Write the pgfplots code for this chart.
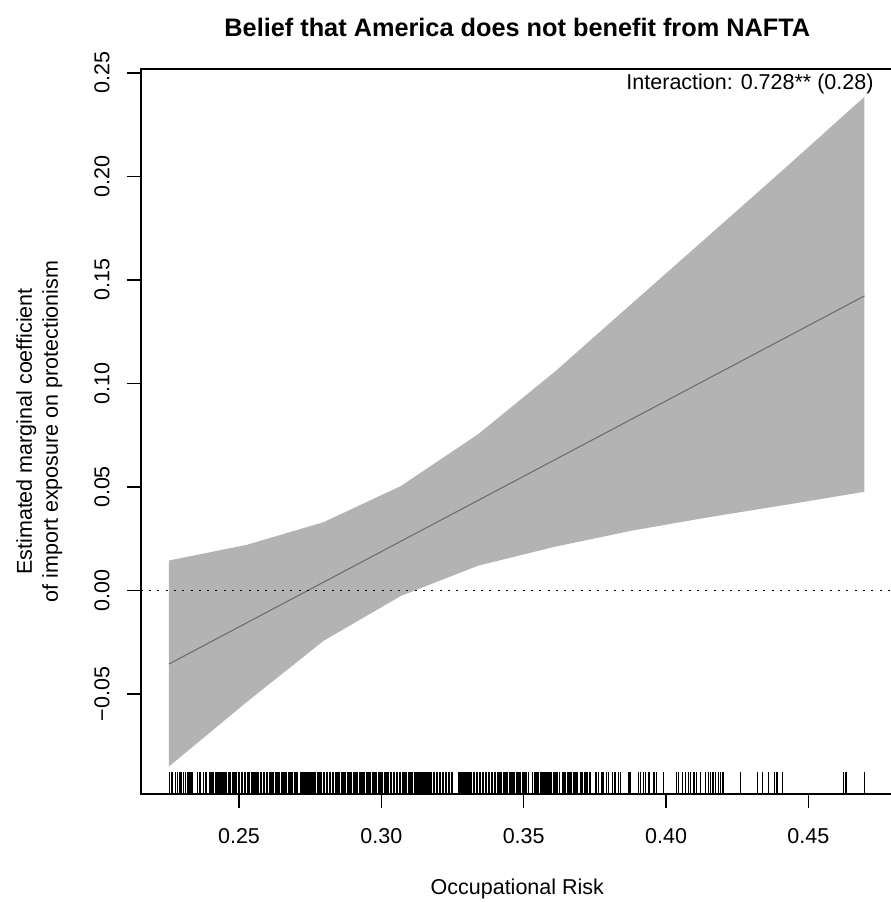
\documentclass[border=0pt]{standalone}
\usepackage{pgfplots}
\pgfplotsset{compat=1.18}
\usepackage{pgfplotstable}
\usepackage{fontspec}
\setmainfont{Liberation Sans}
\definecolor{band}{RGB}{179,179,179}
\definecolor{fitline}{RGB}{110,110,110}

\pgfplotstableread[header=false]{
0.2255
0.2262
0.2267
0.2276
0.2283
0.2293
0.2297
0.2304
0.2311
0.2318
0.2321
0.2328
0.2335
0.2353
0.2360
0.2363
0.2374
0.2381
0.2384
0.2398
0.2405
0.2409
0.2416
0.2423
0.2430
0.2437
0.2440
0.2447
0.2451
0.2456
0.2462
0.2466
0.2471
0.2477
0.2482
0.2486
0.2492
0.2497
0.2503
0.2508
0.2512
0.2518
0.2523
0.2529
0.2533
0.2538
0.2544
0.2549
0.2554
0.2560
0.2564
0.2569
0.2575
0.2580
0.2585
0.2590
0.2596
0.2601
0.2606
0.2611
0.2616
0.2622
0.2627
0.2632
0.2637
0.2643
0.2648
0.2652
0.2658
0.2663
0.2668
0.2674
0.2679
0.2684
0.2689
0.2694
0.2700
0.2705
0.2718
0.2723
0.2728
0.2734
0.2739
0.2744
0.2749
0.2754
0.2760
0.2765
0.2770
0.2775
0.2781
0.2786
0.2791
0.2796
0.2801
0.2807
0.2812
0.2817
0.2822
0.2828
0.2833
0.2838
0.2843
0.2848
0.2854
0.2859
0.2864
0.2869
0.2875
0.2880
0.2885
0.2890
0.2895
0.2901
0.2906
0.2911
0.2916
0.2922
0.2927
0.2932
0.2937
0.2942
0.2948
0.2953
0.2958
0.2963
0.2969
0.2974
0.2979
0.2984
0.2989
0.2995
0.3000
0.3005
0.3010
0.3016
0.3021
0.3026
0.3031
0.3036
0.3042
0.3047
0.3052
0.3057
0.3063
0.3068
0.3073
0.3078
0.3083
0.3089
0.3094
0.3099
0.3104
0.3110
0.3115
0.3120
0.3125
0.3130
0.3136
0.3141
0.3146
0.3151
0.3157
0.3162
0.3167
0.3172
0.3177
0.3183
0.3188
0.3193
0.3198
0.3204
0.3209
0.3214
0.3219
0.3224
0.3230
0.3235
0.3240
0.3245
0.3251
0.3271
0.3276
0.3281
0.3287
0.3292
0.3297
0.3302
0.3308
0.3313
0.3318
0.3323
0.3328
0.3334
0.3339
0.3344
0.3349
0.3355
0.3360
0.3365
0.3370
0.3375
0.3381
0.3386
0.3391
0.3396
0.3402
0.3407
0.3412
0.3417
0.3422
0.3428
0.3433
0.3438
0.3443
0.3449
0.3454
0.3459
0.3464
0.3469
0.3475
0.3480
0.3485
0.3490
0.3496
0.3501
0.3506
0.3511
0.3516
0.3531
0.3537
0.3542
0.3547
0.3552
0.3558
0.3563
0.3568
0.3573
0.3578
0.3584
0.3589
0.3594
0.3599
0.3605
0.3610
0.3615
0.3620
0.3625
0.3638
0.3643
0.3648
0.3654
0.3659
0.3664
0.3669
0.3674
0.3680
0.3685
0.3690
0.3701
0.3707
0.3713
0.3719
0.3724
0.3730
0.3736
0.3751
0.3756
0.3763
0.3775
0.3779
0.3791
0.3798
0.3812
0.3821
0.3833
0.3841
0.3870
0.3876
0.3903
0.3911
0.3920
0.3929
0.3937
0.3941
0.3958
0.3966
0.3990
0.4036
0.4043
0.4057
0.4069
0.4078
0.4087
0.4098
0.4106
0.4122
0.4139
0.4148
0.4157
0.4165
0.4174
0.4183
0.4192
0.4200
0.4262
0.4320
0.4338
0.4361
0.4380
0.4390
0.4408
0.4624
0.4632
0.4697
}\rugdata

\begin{document}
\begin{tikzpicture}[font=\fontsize{21.5bp}{25.8bp}\selectfont]
\begin{axis}[
  scale only axis, width=753bp, height=725bp,
  at={(0,0)}, anchor=south west,
  xmin=0.2155, xmax=0.4800, ymin=-0.0983, ymax=0.2519,
  axis line style={line width=1.5bp, black},
  tick style={line width=1.5bp, black},
  major tick length=14bp,
  tick align=outside,
  tick pos=left,
  xtick={0.25,0.30,0.35,0.40,0.45},
  xticklabels={0.25,0.30,0.35,0.40,0.45},
  ytick={-0.05,0,0.05,0.10,0.15,0.20,0.25},
  yticklabels={−0.05,0.00,0.05,0.10,0.15,0.20,0.25},
  tick label style={font=\fontsize{21.5bp}{25.8bp}\selectfont},
  xticklabel style={anchor=base, inner sep=0pt},
  xticklabel shift=35bp,
  yticklabel style={rotate=90, anchor=base, inner sep=0pt},
  yticklabel shift=17.3bp,
]
% confidence band
\addplot[fill=band, draw=none, mark=none] coordinates {
  (0.2254,0.0145) (0.2526,0.0220) (0.2797,0.0330) (0.3069,0.0505)
  (0.3340,0.0755) (0.3612,0.1060) (0.3883,0.1390) (0.4155,0.1720)
  (0.4426,0.2050) (0.4697,0.2385)
  (0.4697,0.0477) (0.4426,0.0415) (0.4155,0.0355) (0.3883,0.0290)
  (0.3612,0.0212) (0.3340,0.0120) (0.3069,-0.0026) (0.2797,-0.0243)
  (0.2526,-0.0540) (0.2254,-0.0850)
};
% marginal effect line
\addplot[fitline, line width=1.1bp, mark=none] coordinates {(0.2254,-0.0355) (0.4697,0.1423)};
% zero reference line
\addplot[black, line width=1.5bp, dash pattern=on 2bp off 6.3bp, mark=none] coordinates {(0.2155,0) (0.4800,0)};
% rug
\addplot[only marks, mark=|, mark size=10.85bp, mark options={line width=1.2bp, black, solid}]
  table[x index=0, y index=0, y expr=-0.0931] {\rugdata};
\end{axis}
\node[anchor=base east] at (736.2bp,704bp) {Interaction: 0.728** (0.28)};
\node[anchor=base, font=\bfseries\fontsize{25.3bp}{30bp}\selectfont] at (376.5bp,757bp) {Belief that America does not benefit from NAFTA};
\node[anchor=base] at (376.5bp,-100bp) {Occupational Risk};
\node[anchor=base, rotate=90] at (-108.8bp,362.5bp) {Estimated marginal coefficient};
\node[anchor=base, rotate=90] at (-82.8bp,362.5bp) {of import exposure on protectionism};
\pgfresetboundingbox
\useasboundingbox (-140.8bp,-108bp) rectangle (750.2bp,794bp);
\end{tikzpicture}
\end{document}
